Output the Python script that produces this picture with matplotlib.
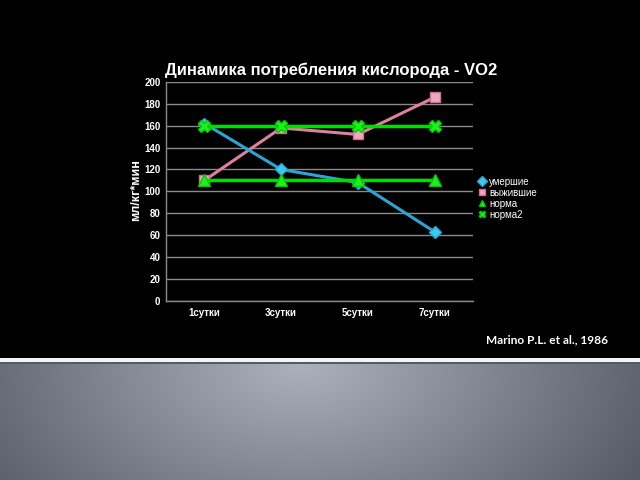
import numpy as np
import matplotlib
matplotlib.use("Agg")
import matplotlib.pyplot as plt
from matplotlib.patches import Rectangle

categories = ["1сутки", "3сутки", "5сутки", "7сутки"]
umershie = [162, 120, 108, 63]
vyzhivshie = [110, 158, 152, 186]
norma = [110, 110, 110, 110]
norma2 = [160, 160, 160, 160]
yticks = [0, 20, 40, 60, 80, 100, 120, 140, 160, 180, 200]

plt.rcParams['font.family'] = ['Liberation Sans', 'DejaVu Sans']

W, H = 640, 480
fig = plt.figure(figsize=(6.4, 4.8), dpi=100, facecolor="black")

# bottom gradient background
bg = fig.add_axes([0, 0, 1, 118 / H])
yy, xx = np.mgrid[0:118, 0:640]
d = np.sqrt(((xx - 300) / 420.0) ** 2 + ((yy - 0) / 260.0) ** 2)
d = np.clip(d, 0, 1)
top = np.array([172, 177, 190]) / 255.0
edge = np.array([78, 82, 94]) / 255.0
img = top[None, None, :] * (1 - d[..., None]) + edge[None, None, :] * d[..., None]
bg.imshow(img, aspect="auto", extent=[0, 640, 118, 0])
bg.axis("off")

# white separator line
fig.patches.append(Rectangle((0, (480 - 362) / H), 1, 4 / H, transform=fig.transFigure,
                             facecolor="#f4f4f4", edgecolor="none", zorder=5))
fig.patches.append(Rectangle((0, (480 - 364) / H), 1, 2 / H, transform=fig.transFigure,
                             facecolor="#555b66", edgecolor="none", zorder=5))

ax = fig.add_axes([166 / W, 1 - 300.7 / H, (473 - 166) / W, (300.7 - 82) / H])
ax.set_facecolor("black")
x = np.arange(len(categories))
ax.plot(x, umershie, color="#2aa6d6", lw=2.2, marker="D", ms=6, mfc="#3cc8f0", mec="#2aa6d6", label="умершие", zorder=4)
ax.plot(x, vyzhivshie, color="#e07fa0", lw=2.2, marker="s", ms=7, mfc="#f0a8c0", mec="#d07090", label="выжившие", zorder=3)
ax.plot(x, norma, color="#00dd00", lw=2.5, marker="^", ms=8, mfc="#22ee22", mec="#00cc00", label="норма", zorder=5)
ax.plot(x, norma2, color="#00dd00", lw=2.5, marker="X", ms=8, mfc="#22ee22", mec="#00cc00", label="норма2", zorder=5)

ax.set_xlim(-0.5, len(categories) - 0.5)
ax.set_ylim(0, 200)
ax.set_yticks(yticks)
ax.set_xticks(x)
ax.set_xticklabels(categories)
for lbl in ax.get_xticklabels() + ax.get_yticklabels():
    lbl.set_color("white")
    lbl.set_fontsize(7)
    lbl.set_fontweight("bold")
ax.tick_params(length=0)
ax.tick_params(axis="x", pad=5)
ax.tick_params(axis="y", pad=4)
ax.grid(axis="y", color="#8a8a8a", lw=1)
ax.set_axisbelow(True)
for s in ["top", "right"]:
    ax.spines[s].set_visible(False)
for s in ["left", "bottom"]:
    ax.spines[s].set_color("#8a8a8a")
    ax.spines[s].set_linewidth(1)

fig.text(136 / W, 1 - 190 / H, "мл/кг*мин", rotation=90, color="white", fontsize=9,
         fontweight="bold", ha="center", va="center")
fig.text(331 / W, 1 - 70 / H, "Динамика потребления кислорода - VO2", color="white",
         fontsize=12, fontweight="bold", ha="center", va="center")

leg = ax.legend(loc="upper left", bbox_to_anchor=(1.005, 0.585), frameon=False,
                fontsize=7, labelcolor="white", handlelength=0.8, handletextpad=0.3,
                labelspacing=0.1, borderaxespad=0)
for h in leg.get_lines():
    h.set_linestyle("none")
    h.set_markersize(5)

fig.text(486 / W, 1 - 340 / H, "Marino P.L. et al., 1986", color="white", fontsize=8.6,
         fontweight="bold", ha="left", va="center", family=["Lato", "DejaVu Sans"])

fig.savefig("out.png", dpi=100, facecolor="black")
